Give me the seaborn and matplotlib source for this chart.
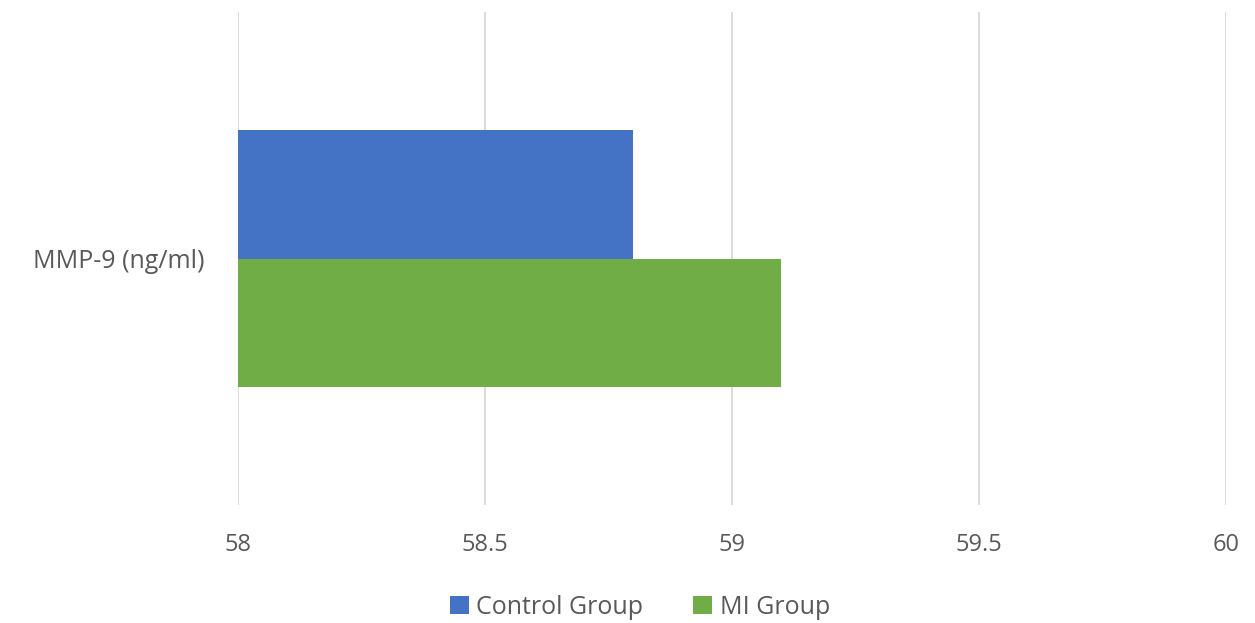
import matplotlib
matplotlib.use("Agg")
import matplotlib.pyplot as plt
import seaborn as sns
import pandas as pd
from matplotlib.patches import Patch

categories = ["MMP-9 (ng/ml)"]
groups = ["Control Group", "MI Group"]
control_values = [58.8]
mi_values = [59.1]
x_ticks = [58, 58.5, 59, 59.5, 60]
x_tick_labels = ["58", "58.5", "59", "59.5", "60"]

sns.set_theme(style="white")
plt.rcParams['font.family'] = ['Open Sans', 'DejaVu Sans']

df = pd.DataFrame({
    "category": categories * 2,
    "group": [groups[0]] * len(categories) + [groups[1]] * len(categories),
    "value": control_values + mi_values,
})

fig = plt.figure(figsize=(12.55, 6.23), dpi=100)
ax = fig.add_axes([238/1255, (623-505)/623, (1226-238)/1255, (505-12)/623])

sns.barplot(data=df, x="value", y="category", hue="group", orient="h",
            palette=["#4472C4", "#70AD47"], width=0.52, ax=ax, legend=False,
            saturation=1, linewidth=0, edgecolor="none", zorder=3)

ax.set_xlim(58, 60)
ax.set_ylim(0.5, -0.5)
ax.set_xticks(x_ticks)
ax.set_xticklabels(x_tick_labels)
ax.xaxis.grid(True, color="#d9d9d9", linewidth=1.3, zorder=0)
ax.set_axisbelow(True)
for s in ax.spines.values():
    s.set_visible(False)
ax.set_xlabel("")
ax.set_ylabel("")
ax.tick_params(axis="x", length=0, pad=20, labelsize=17, labelcolor="#595959")
ax.tick_params(axis="y", length=0, pad=24, labelsize=18, labelcolor="#595959")

handles = [Patch(facecolor=c, edgecolor="none") for c in ["#4472C4", "#70AD47"]]
fig.legend(handles, groups, loc="center", bbox_to_anchor=(0.51, (623-607)/623),
           ncol=2, frameon=False, fontsize=18, labelcolor="#595959",
           handlelength=0.75, handleheight=0.75, handletextpad=0.3, columnspacing=2.0)

fig.savefig("out.png", dpi=100)
